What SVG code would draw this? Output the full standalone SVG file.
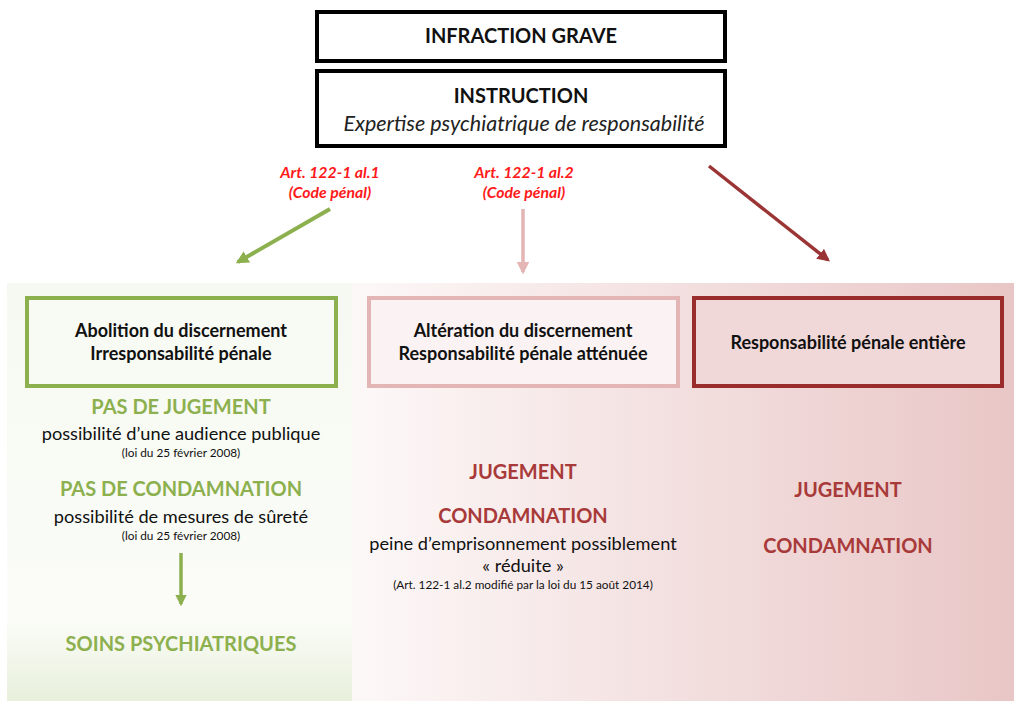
<svg xmlns="http://www.w3.org/2000/svg" width="1014" height="701" viewBox="0 0 1014 701">
<defs>
<linearGradient id="gLeft" x1="0" y1="0" x2="0" y2="1">
<stop offset="0" stop-color="#f6f9f1"/>
<stop offset="0.8" stop-color="#fbfcf8"/>
<stop offset="1" stop-color="#e8f0dc"/>
</linearGradient>
<linearGradient id="gRight" x1="0" y1="0" x2="1" y2="0">
<stop offset="0" stop-color="#fdf8f8"/>
<stop offset="1" stop-color="#e9c6c6"/>
</linearGradient>
<marker id="mGreen" viewBox="0 0 10 10" refX="8" refY="5" markerWidth="3.2" markerHeight="3.2" orient="auto"><path d="M0,0 L10,5 L0,10 z" fill="#8db04f"/></marker>
<marker id="mPink" viewBox="0 0 10 10" refX="8" refY="5" markerWidth="3.6" markerHeight="3.6" orient="auto"><path d="M0,0 L10,5 L0,10 z" fill="#e3b5b5"/></marker>
<marker id="mRed" viewBox="0 0 10 10" refX="8" refY="5" markerWidth="3.6" markerHeight="3.6" orient="auto"><path d="M0,0 L10,5 L0,10 z" fill="#9b3535"/></marker>
</defs>
<style>
text{font-family:Lato,"Open Sans","Liberation Sans",sans-serif;text-anchor:middle}
.hdr{font-size:20px;font-weight:bold;fill:#111}
.it{font-size:21.5px;font-style:italic;fill:#222}
.art{font-size:15.8px;font-weight:bold;font-style:italic;fill:#ff1a1a}
.bx{font-size:18px;font-weight:bold;fill:#111}
.gT{font-size:20px;font-weight:bold;fill:#8db04f}
.rT{font-size:20px;font-weight:bold;fill:#a83a3a}
.body{font-size:18.2px;fill:#111}
.sm{font-size:11.8px;fill:#111}
</style>
<rect x="0" y="0" width="1014" height="701" fill="#ffffff"/>
<rect x="7" y="283" width="345" height="418" fill="url(#gLeft)"/>
<rect x="352" y="283" width="662" height="418" fill="url(#gRight)"/>

<g id="infraction">
<rect x="317" y="12" width="408" height="49" fill="#fff" stroke="#000" stroke-width="4"/>
<text x="521" y="43" class="hdr">INFRACTION GRAVE</text>
</g>
<g id="instruction">
<rect x="317" y="71" width="408" height="75" fill="#fff" stroke="#000" stroke-width="4"/>
<text x="521" y="103" class="hdr">INSTRUCTION</text>
<text x="524" y="131" class="it">Expertise psychiatrique de responsabilité</text>
</g>
<g id="label-al1">
<text x="330" y="178" class="art">Art. 122-1 al.1</text>
<text x="330" y="198" class="art">(Code pénal)</text>
</g>
<g id="label-al2">
<text x="524" y="178" class="art">Art. 122-1 al.2</text>
<text x="524" y="198" class="art">(Code pénal)</text>
</g>

<g id="connectors">
<line x1="330" y1="209" x2="238" y2="262" stroke="#8db04f" stroke-width="4" marker-end="url(#mGreen)"/>
<line x1="523" y1="209" x2="523" y2="272" stroke="#e3b5b5" stroke-width="3.5" marker-end="url(#mPink)"/>
<line x1="709" y1="166" x2="828" y2="260" stroke="#9b3535" stroke-width="3.5" marker-end="url(#mRed)"/>
<line x1="181" y1="553" x2="181" y2="604" stroke="#8db04f" stroke-width="3.5" marker-end="url(#mGreen)"/>
</g>

<g id="abolition">
<rect x="27" y="298" width="309" height="88" fill="#f8faf4" stroke="#8db04f" stroke-width="4"/>
<text x="181" y="337" class="bx">Abolition du discernement</text>
<text x="181" y="360" class="bx">Irresponsabilité pénale</text>
</g>
<g id="alteration">
<rect x="369" y="298" width="309" height="88" fill="#fbf3f3" stroke="#e3b5b5" stroke-width="4"/>
<text x="523" y="337" class="bx">Altération du discernement</text>
<text x="523" y="360" class="bx">Responsabilité pénale atténuée</text>
</g>
<g id="entiere">
<rect x="694" y="298" width="308" height="88" fill="#f1d8d8" stroke="#9b2c2c" stroke-width="4"/>
<text x="848" y="349" class="bx">Responsabilité pénale entière</text>
</g>

<g id="left-outcomes">
<text x="181" y="414" class="gT">PAS DE JUGEMENT</text>
<text x="181" y="440" class="body">possibilité d’une audience publique</text>
<text x="181" y="457" class="sm">(loi du 25 février 2008)</text>
<text x="181" y="496" class="gT">PAS DE CONDAMNATION</text>
<text x="181" y="523" class="body">possibilité de mesures de sûreté</text>
<text x="181" y="540" class="sm">(loi du 25 février 2008)</text>
</g>
<g id="soins">
<text x="181" y="651" class="gT">SOINS PSYCHIATRIQUES</text>
</g>

<g id="middle-outcomes">
<text x="523" y="479" class="rT">JUGEMENT</text>
<text x="523" y="523" class="rT">CONDAMNATION</text>
<text x="523" y="550" class="body">peine d’emprisonnement possiblement</text>
<text x="523" y="572" class="body">« réduite »</text>
<text x="523" y="589" class="sm">(Art. 122-1 al.2 modifié par la loi du 15 août 2014)</text>
</g>
<g id="right-outcomes">
<text x="848" y="497" class="rT">JUGEMENT</text>
<text x="848" y="553" class="rT">CONDAMNATION</text>
</g>
</svg>
